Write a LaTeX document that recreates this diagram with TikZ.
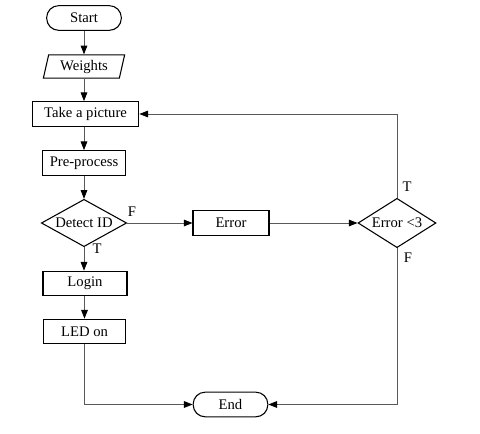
\documentclass[tikz,border=0pt]{standalone}
\usepackage{fontspec}
\setmainfont{Liberation Serif}
\usetikzlibrary{shapes.geometric,arrows.meta}
\begin{document}
\begin{tikzpicture}[x=0.75pt,y=-0.75pt,
  font=\fontsize{11pt}{13pt}\selectfont,
  base/.style={draw=black,line width=0.8pt,inner sep=0pt,minimum height=18.5pt},
  proc/.style={base,rectangle},
  term/.style={base,rectangle,rounded corners=9pt},
  io/.style={base,trapezium,trapezium left angle=75,trapezium right angle=105,trapezium stretches=true},
  dec/.style={base,diamond,aspect=1.8},
  conn/.style={draw=black!65,line width=0.6pt,-{Triangle[length=6.5pt,width=5pt,fill=black,color=black]}},
  lbl/.style={inner sep=0pt}]
\useasboundingbox (0,0) rectangle (480,434);
\node[term,minimum width=56pt] (start) at (84,18) {Start};
\node[io,minimum width=61pt,minimum height=17.5pt] (weights) at (84,66.5) {Weights};
\node[proc,minimum width=80pt] (pic) at (85.5,114) {Take a picture};
\node[proc,minimum width=62pt] (pre) at (84,163) {Pre-process};
\node[dec,minimum width=64pt,minimum height=35.5pt] (detect) at (84,223) {Detect ID};
\node[proc,minimum width=57pt] (error) at (231,223) {Error};
\node[dec,minimum width=58.5pt,minimum height=37pt] (err3) at (397,223) {Error <3};
\node[proc,minimum width=63pt] (login) at (85,283.5) {Login};
\node[proc,minimum width=62pt] (led) at (84.5,331.5) {LED on};
\node[term,minimum width=56pt] (end) at (230.5,404.5) {End};
\draw[conn] (start.south) -- (start.south |- weights.north);
\draw[conn] (weights.south) -- (weights.south |- pic.north);
\draw[conn] (pre.north |- pic.south) -- (pre.north);
\draw[conn] (pre.south) -- (pre.south |- detect.north);
\draw[conn] (detect.east) -- (error.west);
\draw[conn] (error.east) -- (err3.west);
\draw[conn] (detect.south) -- (detect.south |- login.north);
\draw[conn] (led.north |- login.south) -- (led.north);
\draw[conn] (led.south) |- (end.west);
\draw[conn] (err3.south) |- (end.east);
\draw[conn] (err3.north) |- (pic.east);
\node[lbl] (f1) at (132,212) {F};
\node[lbl] (t1) at (97,249) {T};
\node[lbl] (t2) at (407,187) {T};
\node[lbl] (f2) at (408,258) {F};
\end{tikzpicture}
\end{document}
